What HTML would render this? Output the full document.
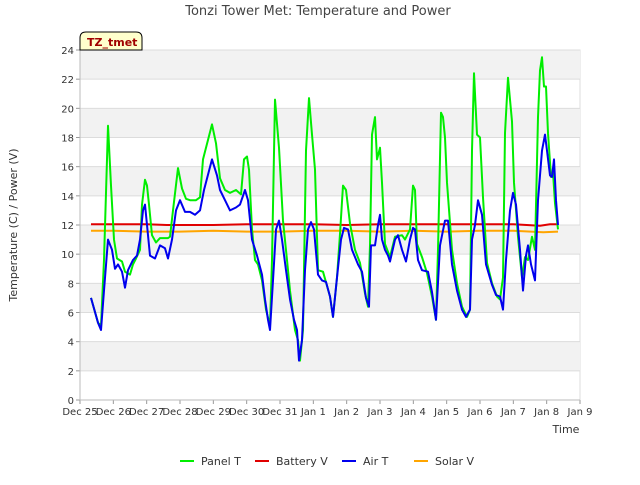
<!DOCTYPE html>
<html><head><meta charset="utf-8"><style>
body{margin:0;background:#fff;font-family:"Liberation Sans","DejaVu Sans",sans-serif;}
svg text{font-family:"DejaVu Sans","Liberation Sans",sans-serif;}
</style></head><body>
<svg id="chart" width="640" height="480" xmlns="http://www.w3.org/2000/svg">
<text x="318" y="15" text-anchor="middle" font-size="13" fill="#444">Tonzi Tower Met: Temperature and Power</text>
<g id="bands"></g><g id="grid"></g><g id="series"></g><g id="axes"></g>
<g>
<path d="M80,50 L80,38 Q80,32 86,32 L136,32 Q142,32 142,38 L142,50 Z" fill="#ffffcc" stroke="#000" stroke-width="1"/>
<text x="87" y="46" font-size="11" font-weight="bold" fill="#a00000">TZ_tmet</text></g>
<text x="566" y="433" text-anchor="middle" font-size="11" fill="#333">Time</text>
<text transform="translate(17,225) rotate(-90)" text-anchor="middle" font-size="11" fill="#333">Temperature (C) / Power (V)</text>
<g id="legend"></g>
</svg>
<script>
const xTickLabels=["Dec 25","Dec 26","Dec 27","Dec 28","Dec 29","Dec 30","Dec 31","Jan 1","Jan 2","Jan 3","Jan 4","Jan 5","Jan 6","Jan 7","Jan 8","Jan 9"];
const yTicks=[0,2,4,6,8,10,12,14,16,18,20,22,24];
const panelT_t=[0.33,0.54,0.63,0.72,0.84,0.93,1.02,1.11,1.26,1.35,1.5,1.59,1.68,1.8,1.86,1.95,2.01,2.07,2.16,2.28,2.4,2.64,2.7,2.79,2.94,3.06,3.18,3.3,3.48,3.6,3.69,3.96,4.08,4.2,4.35,4.5,4.68,4.83,4.92,5.01,5.07,5.16,5.25,5.34,5.46,5.58,5.7,5.76,5.85,5.97,6.09,6.21,6.3,6.45,6.54,6.6,6.69,6.78,6.87,6.96,7.05,7.14,7.29,7.5,7.59,7.71,7.8,7.89,7.98,8.1,8.25,8.4,8.55,8.64,8.7,8.76,8.85,8.91,9.0,9.06,9.15,9.3,9.45,9.66,9.75,9.9,9.99,10.05,10.11,10.26,10.41,10.56,10.68,10.74,10.83,10.89,10.95,11.01,11.16,11.31,11.46,11.61,11.7,11.76,11.82,11.91,12.0,12.09,12.21,12.36,12.51,12.6,12.69,12.75,12.84,12.96,13.02,13.14,13.26,13.35,13.44,13.56,13.65,13.74,13.8,13.86,13.92,13.98,14.04,14.13,14.19,14.25,14.34];
const panelT_v=[7.0,5.3,5.1,9.6,18.8,14.7,11.0,9.7,9.5,8.8,8.6,9.3,9.7,10.3,13.4,15.1,14.7,13.4,11.3,10.8,11.1,11.1,11.2,13.0,15.9,14.5,13.8,13.7,13.7,13.9,16.5,18.9,17.6,15.2,14.4,14.2,14.4,14.1,16.5,16.7,15.8,11.7,9.6,9.3,8.2,6.2,5.1,9.6,20.6,17.3,12.3,9.6,7.5,4.8,4.1,2.7,4.8,17.1,20.7,18.2,15.8,8.9,8.8,7.1,5.7,8.4,11.4,14.7,14.4,12.1,10.3,9.4,7.3,6.4,10.6,18.2,19.4,16.5,17.3,14.9,10.7,9.8,11.2,11.3,11.0,11.7,14.7,14.4,10.7,9.8,8.7,7.1,5.5,10.3,19.7,19.4,18.0,14.9,10.3,8.0,6.4,5.7,6.2,17.1,22.4,18.2,18.0,13.9,9.4,8.0,7.1,6.9,8.4,18.3,22.1,19.1,14.9,11.2,8.4,9.8,9.6,11.2,10.3,19.4,22.6,23.5,21.5,21.5,18.3,15.3,15.6,13.5,11.7];
const airT_t=[0.33,0.54,0.63,0.72,0.84,0.96,1.05,1.14,1.26,1.35,1.44,1.59,1.71,1.8,1.89,1.95,2.01,2.1,2.25,2.4,2.55,2.64,2.76,2.88,3.0,3.15,3.3,3.45,3.6,3.72,3.96,4.11,4.2,4.35,4.5,4.68,4.8,4.95,5.04,5.16,5.31,5.46,5.55,5.64,5.7,5.79,5.88,5.97,6.06,6.18,6.3,6.42,6.51,6.57,6.66,6.75,6.84,6.93,7.02,7.14,7.26,7.38,7.5,7.59,7.71,7.83,7.92,8.04,8.16,8.34,8.46,8.58,8.67,8.73,8.85,8.94,9.0,9.06,9.15,9.24,9.3,9.45,9.54,9.66,9.78,9.9,9.99,10.05,10.14,10.26,10.44,10.56,10.68,10.8,10.95,11.04,11.16,11.31,11.46,11.58,11.7,11.76,11.85,11.94,12.06,12.18,12.36,12.48,12.6,12.69,12.78,12.9,12.99,13.08,13.2,13.29,13.38,13.44,13.53,13.65,13.74,13.86,13.95,14.01,14.1,14.16,14.22,14.28,14.34];
const airT_v=[7.0,5.3,4.8,7.5,11.0,10.3,9.0,9.3,8.8,7.7,8.9,9.6,9.9,11.0,13.0,13.4,12.0,9.9,9.7,10.6,10.4,9.7,11.0,13.0,13.7,12.9,12.9,12.7,13.0,14.4,16.5,15.4,14.4,13.7,13.0,13.2,13.4,14.4,13.7,11.0,9.9,8.6,6.9,5.5,4.8,8.2,11.7,12.3,11.0,8.9,6.9,5.5,4.8,2.7,4.1,8.9,11.7,12.2,11.7,8.6,8.2,8.1,7.1,5.7,8.4,11.0,11.8,11.7,10.3,9.3,8.8,7.0,6.4,10.6,10.6,12.0,12.7,11.0,10.3,9.9,9.5,11.0,11.3,10.3,9.5,11.0,11.8,11.7,9.6,8.9,8.8,7.4,5.5,10.6,12.3,12.3,9.3,7.5,6.2,5.7,6.2,11.0,12.0,13.7,12.7,9.3,7.9,7.2,7.1,6.2,9.6,13.0,14.2,13.4,10.3,7.5,9.9,10.6,9.3,8.2,13.7,17.1,18.2,17.1,15.4,15.3,16.5,13.7,12.0];
const batt_t=[0.33,1.0,2.0,2.6,3.0,4.0,5.0,6.0,7.0,8.0,9.0,10.0,11.0,12.0,13.0,13.8,14.1,14.34];
const batt_v=[12.05,12.05,12.05,12.0,12.0,12.0,12.05,12.05,12.05,12.0,12.05,12.05,12.05,12.05,12.05,11.95,12.05,12.05];
const solar_t=[0.33,1.0,2.0,3.0,4.0,5.0,6.0,7.0,8.0,9.0,10.0,11.0,12.0,13.0,13.9,14.34];
const solar_v=[11.6,11.6,11.55,11.55,11.6,11.55,11.55,11.6,11.6,11.55,11.6,11.55,11.6,11.6,11.5,11.55];

const NS="http://www.w3.org/2000/svg";
const X0=80,X1=580,Y0=400,Y1=50;
const xs=t=>X0+t*(X1-X0)/15, ys=v=>Y0-v*(Y0-Y1)/24;
function mk(tag,attrs,parent){const e=document.createElementNS(NS,tag);for(const k in attrs)e.setAttribute(k,attrs[k]);parent.appendChild(e);return e;}
const bands=document.getElementById('bands'),grid=document.getElementById('grid'),axes=document.getElementById('axes'),series=document.getElementById('series'),legend=document.getElementById('legend');
mk('rect',{x:X0,y:Y1,width:X1-X0,height:Y0-Y1,fill:'#fff',stroke:'#ddd'},bands);
for(let i=0;i<yTicks.length-1;i++){ if(i%2===1){const r=mk('rect',{x:X0,y:ys(yTicks[i+1]),width:X1-X0,height:ys(yTicks[i])-ys(yTicks[i+1]),fill:'#f2f2f2'},bands);

}}
yTicks.forEach(v=>{mk('line',{x1:X0,x2:X1,y1:ys(v),y2:ys(v),stroke:'#dcdcdc'},grid);
const t=mk('text',{x:X0-6,y:ys(v)+4,'text-anchor':'end','font-size':10,fill:'#333'},axes);t.textContent=v;


mk('line',{x1:X0-4,x2:X0,y1:ys(v),y2:ys(v),stroke:'#999'},axes);});
xTickLabels.forEach((l,i)=>{const t=mk('text',{x:xs(i),y:Y0+15,'text-anchor':'middle','font-size':10,fill:'#333'},axes);t.textContent=l;


mk('line',{x1:xs(i),x2:xs(i),y1:Y0,y2:Y0+4,stroke:'#999'},axes);});
mk('line',{x1:X0,x2:X0,y1:Y1,y2:Y0,stroke:'#bbb'},axes);
mk('line',{x1:X0,x2:X1,y1:Y0,y2:Y0,stroke:'#bbb'},axes);
function line(ts,vs,color,name){const d=ts.map((t,i)=>(i?'L':'M')+xs(t).toFixed(1)+','+ys(vs[i]).toFixed(1)).join('');
const p=mk('path',{d:d,fill:'none',stroke:color,'stroke-width':2,'stroke-linejoin':'round'},series);

}
line(batt_t,batt_v,'#e00000','battery-v-line');
line(solar_t,solar_v,'#ffa500','solar-v-line');
line(panelT_t,panelT_v,'#00ee00','panel-t-line');
line(airT_t,airT_v,'#0000ee','air-t-line');
const leg=[["Panel T","#00ee00",180],["Battery V","#e00000",255],["Air T","#0000ee",342],["Solar V","#ffa500",414]];
leg.forEach(([n,c,x])=>{const g=mk('g',{},legend);


mk('line',{x1:x,x2:x+14,y1:461,y2:461,stroke:c,'stroke-width':2},g);
const t=mk('text',{x:x+21,y:465,'font-size':11,fill:'#333'},g);t.textContent=n;});
</script>
</body></html>
